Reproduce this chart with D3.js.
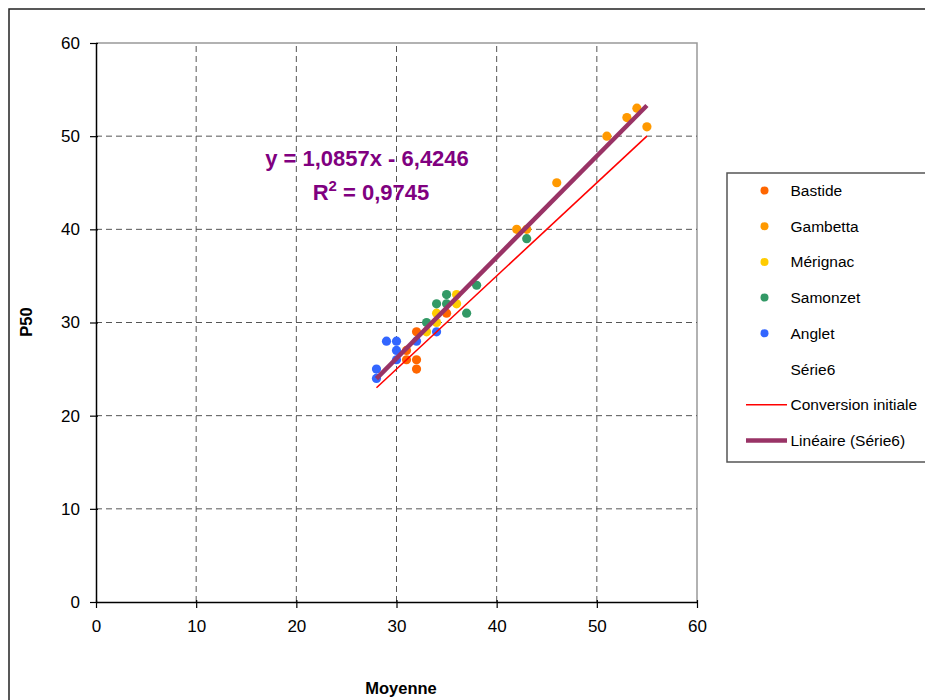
<!DOCTYPE html>
<html><head><meta charset="utf-8">
<script src="https://cdn.jsdelivr.net/npm/d3@7"></script>
<style>body{margin:0;background:#fff}svg{display:block;font-family:"Liberation Sans",Arial,sans-serif}</style>
</head><body><svg id="c" width="925" height="700"></svg>
<script>
const xTicks = [0,10,20,30,40,50,60];
const yTicks = [0,10,20,30,40,50,60];
const seriesNames = ["Bastide","Gambetta","Mérignac","Samonzet","Anglet"];
const seriesColors = ["#FF6600","#FF9900","#FFCC00","#339966","#3366FF"];
const bastide = [[32,29],[31,27],[31,26],[32,26],[32,25],[35,31]];
const gambetta = [[42,40],[43,40],[46,45],[51,50],[53,52],[54,53],[55,51]];
const merignac = [[36,33],[36,32],[34,31],[34,30],[33,29]];
const samonzet = [[38,34],[35,33],[34,32],[35,32],[37,31],[33,30],[43,39]];
const anglet = [[28,25],[28,24],[29,28],[30,28],[30,27],[30,26],[32,28],[34,29]];
const conversion = [[28,23],[55,50]];
const trendSlope = 1.0857, trendIntercept = -6.4246, rSquared = 0.9745;
const legendLabels = ["Bastide","Gambetta","Mérignac","Samonzet","Anglet","Série6","Conversion initiale","Linéaire (Série6)"];

const allSeries = [bastide,gambetta,merignac,samonzet,anglet];
const svg = d3.select("#c");
const x = d3.scaleLinear([0,60],[96,697]);
const y = d3.scaleLinear([0,60],[602,43]);

// outer frame
svg.append("rect").attr("x",9).attr("y",9).attr("width",1000).attr("height",1000)
  .attr("fill","none").attr("stroke","#222").attr("stroke-width",1.5);

// plot area border (top/right gray)
svg.append("path").attr("d",`M${x(0)},${y(60)}H${x(60)}V${y(0)}`)
  .attr("fill","none").attr("stroke","#999").attr("stroke-width",1.5);

// grid
const g = svg.append("g");
g.selectAll(".vg").data(xTicks.slice(1,-1)).join("line")
  .attr("x1",d=>x(d)).attr("x2",d=>x(d)).attr("y1",y(0)).attr("y2",y(60))
  .attr("stroke","#555").attr("stroke-dasharray","6,4").attr("stroke-width",1);
g.selectAll(".hg").data(yTicks.slice(1,-1)).join("line")
  .attr("y1",d=>y(d)).attr("y2",d=>y(d)).attr("x1",x(0)).attr("x2",x(60))
  .attr("stroke","#555").attr("stroke-dasharray","6,4").attr("stroke-width",1);

// axes
const xa = svg.append("g").attr("transform",`translate(0,${y(0)})`)
  .call(d3.axisBottom(x).tickValues(xTicks).tickSize(6).tickSizeOuter(0).tickPadding(12));
const ya = svg.append("g").attr("transform",`translate(${x(0)},0)`)
  .call(d3.axisLeft(y).tickValues(yTicks).tickSize(6).tickSizeOuter(0).tickPadding(10));
[xa,ya].forEach(a=>{
  a.select(".domain").attr("stroke","#000").attr("stroke-width",1.5);
  a.selectAll(".tick line").attr("stroke","#000").attr("stroke-width",1.2);
  a.selectAll(".tick text").attr("font-size",17).attr("fill","#000")
   .attr("font-family","'Liberation Sans',Arial,sans-serif");
});
// x ticks slightly cross axis
xa.selectAll(".tick line").attr("y1",-2);
ya.selectAll(".tick line").attr("x1",2);

// points
allSeries.forEach((s,i)=>{
  svg.append("g").selectAll("circle").data(s).join("circle")
    .attr("cx",d=>x(d[0])).attr("cy",d=>y(d[1])).attr("r",4.6)
    .attr("fill",seriesColors[i]);
});

// conversion line
const line = d3.line().x(d=>x(d[0])).y(d=>y(d[1]));
svg.append("path").datum(conversion).attr("d",line)
  .attr("stroke","#FF0000").attr("stroke-width",1.6).attr("fill","none");

// trend line
const allPts = allSeries.flat();
const xmin = d3.min(allPts,d=>d[0]), xmax = d3.max(allPts,d=>d[0]);
const trend = [[xmin,trendSlope*xmin+trendIntercept],[xmax,trendSlope*xmax+trendIntercept]];
svg.append("path").datum(trend).attr("d",line)
  .attr("stroke","#993366").attr("stroke-width",4.5).attr("fill","none");

// equation
const fmt = v=>v.toFixed(4).replace(".",",");
svg.append("text").attr("x",367).attr("y",166).attr("text-anchor","middle")
  .attr("font-size",22).attr("font-weight","bold").attr("fill","#800080")
  .text(`y = ${fmt(trendSlope)}x - ${fmt(-trendIntercept)}`);
const t2 = svg.append("text").attr("x",371).attr("y",200).attr("text-anchor","middle")
  .attr("font-size",22).attr("font-weight","bold").attr("fill","#800080");
t2.append("tspan").text("R");
t2.append("tspan").attr("font-size",15).attr("dy",-9).text("2");
t2.append("tspan").attr("dy",9).text(` = ${fmt(rSquared)}`);

// axis titles
svg.append("text").attr("x",401).attr("y",694).attr("text-anchor","middle")
  .attr("font-size",16.5).attr("font-weight","bold").text("Moyenne");
svg.append("text").attr("transform","translate(32,322) rotate(-90)").attr("text-anchor","middle")
  .attr("font-size",16.5).attr("font-weight","bold").text("P50");

// legend
svg.append("rect").attr("x",727).attr("y",173).attr("width",400).attr("height",289)
  .attr("fill","#fff").attr("stroke","#555").attr("stroke-width",1.5);
const lg = svg.append("g");
legendLabels.forEach((lab,i)=>{
  const cy = 190.5 + i*35.7;
  if(i<5) lg.append("circle").attr("cx",764.5).attr("cy",cy).attr("r",4).attr("fill",seriesColors[i]);
  if(i===6) lg.append("line").attr("x1",746).attr("x2",787).attr("y1",cy).attr("y2",cy).attr("stroke","#FF0000").attr("stroke-width",1.5);
  if(i===7) lg.append("line").attr("x1",746).attr("x2",787).attr("y1",cy).attr("y2",cy).attr("stroke","#993366").attr("stroke-width",4.5);
  lg.append("text").attr("x",790.5).attr("y",cy+5.5).attr("font-size",15.5).text(lab);
});
</script></body></html>
